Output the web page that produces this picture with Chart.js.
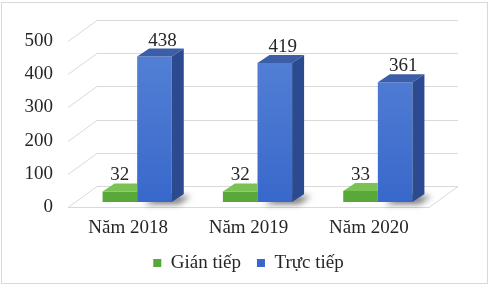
<!DOCTYPE html>
<html>
<head>
<meta charset="utf-8">
<script src="https://cdn.jsdelivr.net/npm/chart.js@4.4.1/dist/chart.umd.min.js"></script>
<style>
  html, body { margin: 0; padding: 0; background: #fff; }
  .wrap { position: relative; width: 491px; height: 297px; }
  .frame { position: absolute; left: 1px; top: 2px; width: 487px; height: 282px; border: 1px solid #d9d9d9; box-sizing: border-box; pointer-events: none; }
  canvas { position: absolute; left: 0; top: 0; }
</style>
</head>
<body>
<div class="wrap">
  <canvas id="chart" width="491" height="297"></canvas>
  <div class="frame"></div>
</div>
<script>
const categories = ['Năm 2018', 'Năm 2019', 'Năm 2020'];
const seriesNames = ['Gián tiếp', 'Trực tiếp'];
const indirectValues = [32, 32, 33];
const directValues = [438, 419, 361];
const yMax = 500;
const yStep = 100;

// fake 3d: back wall offset, bar shift inside the box, bar depth
const WALL = { dx: 29, dy: -21 };
const BAR = { sx: 9, sy: -5, dx: 12, dy: -8 };
const labelShift = [0, 8];
const faceColors = [
    { top: '#7ac254', side: '#3f7d27' },
    { top: '#3c5ea9', side: '#2b4a8f' }
];

Chart.defaults.font.family = '"Liberation Serif", "Times New Roman", serif';
Chart.defaults.font.size = 19;
Chart.defaults.color = '#262626';

function frontGradient(top, bottom) {
    return (c) => {
        const area = c.chart.chartArea;
        if (!area) return bottom;
        const g = c.chart.ctx.createLinearGradient(0, area.top, 0, area.bottom);
        g.addColorStop(0, top);
        g.addColorStop(1, bottom);
        return g;
    };
}

const chart3d = {
    id: 'chart3d',
    beforeDatasetsDraw(chart) {
        const { ctx, chartArea: a, scales: { y } } = chart;
        const p0 = y.getPixelForValue(0);

        ctx.save();
        ctx.strokeStyle = '#d9d9d9';
        ctx.lineWidth = 1;
        y.ticks.forEach(t => {
            const py = Math.round(y.getPixelForValue(t.value)) + 0.5;
            ctx.beginPath();
            ctx.moveTo(a.left, py);
            ctx.lineTo(a.left + WALL.dx, py + WALL.dy);
            ctx.lineTo(a.right + WALL.dx, py + WALL.dy);
            ctx.stroke();
        });
        // floor front edge
        ctx.beginPath();
        ctx.moveTo(a.left, Math.round(p0) + 0.5);
        ctx.lineTo(a.right, Math.round(p0) + 0.5);
        ctx.lineTo(a.right + WALL.dx, Math.round(p0) + 0.5 + WALL.dy);
        ctx.stroke();
        ctx.restore();

        ctx.save();
        ctx.translate(BAR.sx, BAR.sy);

        // soft shadows on the floor
        ctx.save();
        ctx.shadowColor = 'rgba(0,0,0,0.55)';
        ctx.shadowBlur = 6;
        ctx.shadowOffsetX = 7;
        ctx.shadowOffsetY = 2;
        ctx.fillStyle = '#888';
        chart.getDatasetMeta(1).data.forEach(el => {
            const { x, base, width } = el.getProps(['x', 'base', 'width'], true);
            const x0 = x - width / 2, x1 = x + width / 2;
            ctx.beginPath();
            ctx.moveTo(x0, base);
            ctx.lineTo(x1, base);
            ctx.lineTo(x1 + BAR.dx, base + BAR.dy);
            ctx.lineTo(x0 + BAR.dx, base + BAR.dy);
            ctx.closePath();
            ctx.fill();
        });
        ctx.restore();
    },
    afterDatasetsDraw(chart) {
        const { ctx } = chart;
        const last = chart.data.datasets.length - 1;

        chart.data.datasets.forEach((ds, i) => {
            const meta = chart.getDatasetMeta(i);
            const col = faceColors[i];
            meta.data.forEach(el => {
                const { x, y, base, width } = el.getProps(['x', 'y', 'base', 'width'], true);
                const x0 = x - width / 2, x1 = x + width / 2;
                ctx.save();
                if (i < last) {
                    // hidden behind the next bar
                    ctx.beginPath();
                    ctx.rect(x0 - 5, y - 40, width + 5, base - y + 60);
                    ctx.clip();
                }
                ctx.fillStyle = col.top;
                ctx.beginPath();
                ctx.moveTo(x0, y);
                ctx.lineTo(x1, y);
                ctx.lineTo(x1 + BAR.dx, y + BAR.dy);
                ctx.lineTo(x0 + BAR.dx, y + BAR.dy);
                ctx.closePath();
                ctx.fill();

                ctx.fillStyle = col.side;
                ctx.beginPath();
                ctx.moveTo(x1, y);
                ctx.lineTo(x1 + BAR.dx, y + BAR.dy);
                ctx.lineTo(x1 + BAR.dx, base + BAR.dy);
                ctx.lineTo(x1, base);
                ctx.closePath();
                ctx.fill();
                ctx.restore();
            });
        });

        // value labels
        ctx.save();
        ctx.font = '19px "Liberation Serif", "Times New Roman", serif';
        ctx.fillStyle = '#262626';
        ctx.textAlign = 'center';
        ctx.textBaseline = 'alphabetic';
        chart.data.datasets.forEach((ds, i) => {
            chart.getDatasetMeta(i).data.forEach((el, j) => {
                const { x, y } = el.getProps(['x', 'y'], true);
                ctx.fillText(String(ds.data[j]), x + labelShift[i], y - 11);
            });
        });
        ctx.restore();

        ctx.restore();
    }
};

new Chart(document.getElementById('chart'), {
    type: 'bar',
    data: {
        labels: categories,
        datasets: [
            {
                label: seriesNames[0],
                data: indirectValues,
                backgroundColor: frontGradient('#6cba4a', '#58a839'),
                borderWidth: 0
            },
            {
                label: seriesNames[1],
                data: directValues,
                backgroundColor: frontGradient('#5683d6', '#3868cb'),
                borderWidth: 0
            }
        ]
    },
    options: {
        responsive: false,
        animation: false,
        devicePixelRatio: 1,
        layout: { padding: { top: 41, left: 6, right: 0, bottom: 14.5 } },
        datasets: {
            bar: { categoryPercentage: 0.575, barPercentage: 1 }
        },
        scales: {
            x: {
                grid: { display: false, drawTicks: false },
                border: { display: false },
                ticks: { padding: 10 },
                afterFit(s) { s.height = 30.5; }
            },
            y: {
                min: 0,
                max: yMax,
                grid: { display: false, drawTicks: false },
                border: { display: false },
                ticks: { stepSize: yStep, padding: 15 },
                afterFit(s) { s.width = 62; }
            },
            yr: {
                position: 'right',
                grid: { display: false, drawTicks: false },
                border: { display: false },
                ticks: { display: false },
                afterFit(s) { s.width = 62; }
            }
        },
        plugins: {
            legend: {
                position: 'bottom',
                labels: { boxWidth: 8, boxHeight: 8, padding: 16 }
            },
            tooltip: { enabled: false }
        }
    },
    plugins: [chart3d]
});
</script>
</body>
</html>
